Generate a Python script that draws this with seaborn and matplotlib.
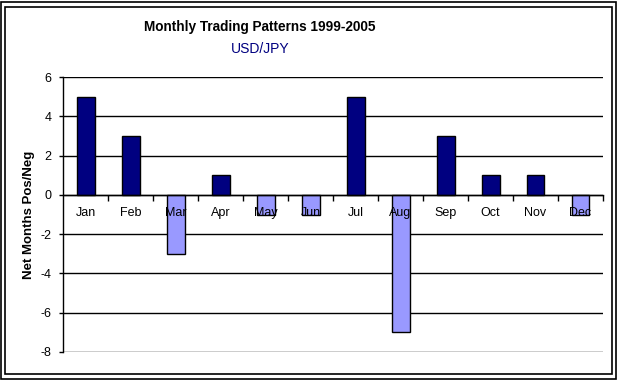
import seaborn as sns
import matplotlib.pyplot as plt
from matplotlib.patches import Rectangle

## data
months = ["Jan", "Feb", "Mar", "Apr", "May", "Jun", "Jul", "Aug", "Sep", "Oct", "Nov", "Dec"]
net_months = [5, 3, -3, 1, -1, -1, 5, -7, 3, 1, 1, -1]
sign = ["pos" if v > 0 else "neg" for v in net_months]
y_ticks = [-8, -6, -4, -2, 0, 2, 4, 6]

## theme
sns.set_theme(style="white")
plt.rcParams['font.family'] = ['Liberation Sans', 'DejaVu Sans']
plt.rcParams['axes.axisbelow'] = False
plt.rcParams['text.color'] = 'black'
plt.rcParams['xtick.color'] = 'black'
plt.rcParams['ytick.color'] = 'black'
plt.rcParams['axes.labelcolor'] = 'black'

fig = plt.figure(figsize=(6.21, 3.81), dpi=100)
ax = fig.add_axes([63 / 621, 29 / 381, 540 / 621, 275 / 381])

# gridlines below the bars
for t in y_ticks:
    ax.axhline(t, color="black", lw=1, zorder=0)

p = sns.barplot(x=months, y=net_months, hue=sign, palette={"pos": "#000080", "neg": "#9999FF"},
                dodge=False, width=0.4, saturation=1, edgecolor="black", linewidth=1,
                legend=False, ax=ax)
ax.set_axisbelow(False)

ax.set_ylim(-8, 6)
ax.set_xlim(-0.5, 11.5)
ax.set_yticks(y_ticks)
ax.set_yticklabels([str(t) for t in y_ticks], fontsize=9)
ax.tick_params(axis="y", length=3, width=1, direction="out", left=True, pad=5.5)

# category axis crosses at zero
ax.spines["bottom"].set_position(("data", 0))
ax.spines["top"].set_visible(False)
ax.spines["right"].set_visible(False)
for s in ["left", "bottom"]:
    ax.spines[s].set_color("black")
    ax.spines[s].set_linewidth(1)
ax.set_xticks(range(len(months)))
ax.set_xticklabels(months, fontsize=9)
ax.set_xticks([i + 0.5 for i in range(len(months))], minor=True)
ax.tick_params(axis="x", which="major", length=0, pad=9)
ax.tick_params(axis="x", which="minor", length=4, width=1, color="black", direction="out", bottom=True)
ax.set_xlabel("")
ax.set_ylabel("Net Months Pos/Neg", fontsize=9.5, fontweight="bold", labelpad=4)

fig.text(260 / 621, 1 - 27 / 381, "Monthly Trading Patterns 1999-2005", ha="center", va="center",
         fontsize=9.8, fontweight="bold")
fig.text(260 / 621, 1 - 49 / 381, "USD/JPY", ha="center", va="center", fontsize=10, color="#000080")

# double frame around the chart
fig.patches.append(Rectangle((1 / 621, 2 / 381), 615 / 621, 377 / 381, transform=fig.transFigure,
                             fill=False, edgecolor="black", lw=1.2))
fig.patches.append(Rectangle((5 / 621, 7 / 381), 607 / 621, 367 / 381, transform=fig.transFigure,
                             fill=False, edgecolor="black", lw=1.2))

plt.savefig("out.png", dpi=100)
